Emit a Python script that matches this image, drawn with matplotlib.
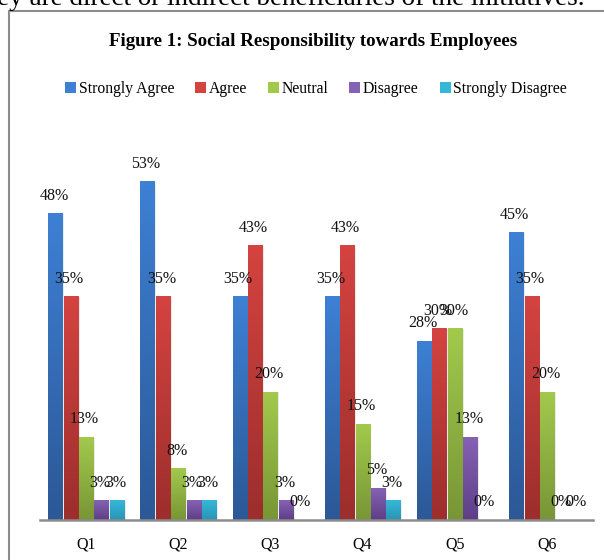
import numpy as np
import matplotlib
matplotlib.use("Agg")
import matplotlib.pyplot as plt
from matplotlib.patches import Rectangle
from matplotlib.colors import LinearSegmentedColormap

plt.rcParams['font.family'] = ['Liberation Serif', 'DejaVu Serif']

# survey results, percent of respondents
questions = ['Q1', 'Q2', 'Q3', 'Q4', 'Q5', 'Q6']
series = ['Strongly Agree', 'Agree', 'Neutral', 'Disagree', 'Strongly Disagree']
strongly_agree = [48, 53, 35, 35, 28, 45]
agree = [35, 35, 43, 43, 30, 35]
neutral = [13, 8, 20, 15, 30, 20]
disagree = [3, 3, 3, 5, 13, 0]
strongly_disagree = [3, 3, 0, 3, 0, 0]
values = [strongly_agree, agree, neutral, disagree, strongly_disagree]

# (top colour, bottom colour) for the gradient fill of each series
shades = [('#3d80d4', '#2c5896'),
          ('#d44340', '#9c2e2c'),
          ('#a2c94c', '#789636'),
          ('#8562b4', '#5e3f86'),
          ('#37b7d8', '#2795b5')]

W, H = 604, 560
fig = plt.figure(figsize=(W / 100, H / 100), dpi=100)

# grey frame of the figure box (right and bottom run off the page)
fig.add_artist(Rectangle((9 / W, -0.05), 1.2, (H - 11) / H + 0.05,
                         transform=fig.transFigure, fill=False,
                         edgecolor='#8c8c8c', linewidth=1.5))

# line of body text above the box, clipped by the page edge
fig.text(584 / W, 1 - 5 / H,
         'they are direct or indirect beneficiaries of the initiatives.',
         ha='right', va='baseline', fontsize=19.5)

fig.text(313 / W, 1 - 42 / H, 'Figure 1: Social Responsibility towards Employees',
         ha='center', va='center', fontsize=13.6, fontweight='bold')

px_per_pct = 6.38
ax_left, ax_right, base_y, top_y = 40, 593, 520, 170
ax = fig.add_axes([ax_left / W, 1 - base_y / H, (ax_right - ax_left) / W,
                   (base_y - top_y) / H])
ymax = (base_y - top_y) / px_per_pct

width = 0.152
step = 0.167
x = np.arange(len(questions))
handles = []
for k, (name, vals, (c_top, c_bot)) in enumerate(zip(series, values, shades)):
    cmap = LinearSegmentedColormap.from_list(name, [c_bot, c_top])
    grad = np.linspace(0, 1, 64).reshape(-1, 1)
    pos = x + (k - 2) * step
    for xi, v in zip(pos, vals):
        x0, x1 = xi - width / 2, xi + width / 2
        if v > 0:
            # soft shadow on the right side of each bar
            ax.add_patch(Rectangle((x1, 0), 0.02, v, facecolor='#000000',
                                   alpha=0.08, linewidth=0, zorder=1))
            ax.imshow(grad, extent=(x0, x1, 0, v), origin='lower', cmap=cmap,
                      aspect='auto', zorder=2, interpolation='bilinear')
        ax.annotate(f'{v}%', (xi, v), xytext=(-1, 13), textcoords='offset points',
                    ha='center', va='center', fontsize=11.5, color='#111111',
                    zorder=4)
    handles.append(Rectangle((0, 0), 1, 1, facecolor=c_top, edgecolor='none'))

ax.set_xlim(-0.5, len(questions) - 0.5)
ax.set_ylim(0, ymax)
for s in ['top', 'right', 'left']:
    ax.spines[s].set_visible(False)
ax.spines['bottom'].set_color('#8c8c8c')
ax.spines['bottom'].set_linewidth(1.8)
ax.set_yticks([])
ax.set_xticks(x)
ax.set_xticklabels(questions, fontsize=11.5)
ax.tick_params(axis='x', length=0, pad=12)

fig.legend(handles, series, loc='center', bbox_to_anchor=(316 / W, 1 - 89 / H),
           ncol=5, frameon=False, fontsize=11.3, handlelength=0.7,
           handleheight=0.7, handletextpad=0.15, columnspacing=1.35)

fig.savefig('out.png', dpi=100)
